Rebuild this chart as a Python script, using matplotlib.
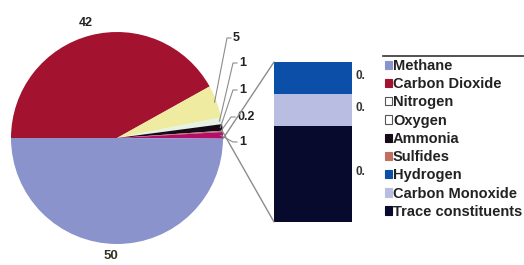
import matplotlib
matplotlib.use("Agg")
import matplotlib.pyplot as plt
import numpy as np
from matplotlib.patches import ConnectionPatch, Patch
from matplotlib.lines import Line2D

plt.rcParams['font.family'] = ['Liberation Sans', 'DejaVu Sans']

# ---- data ----
pie_labels = ["Carbon Dioxide", "Nitrogen", "Oxygen", "Ammonia", "Sulfides", "Other", "Methane"]
pie_values = [42, 5, 1, 1, 0.2, 1, 50]
pie_colors = ["#a3132f", "#efeba0", "#e6f2e4", "#160a18", "#c07060", "#b0106a", "#8b93cc"]

bar_labels = ["Trace constituents", "Carbon Monoxide", "Hydrogen"]   # bottom -> top
bar_values = [0.6, 0.2, 0.2]
bar_colors = ["#070a2c", "#b9bde2", "#0b4fa8"]
bar_value_text = ["0.", "0.", "0."]

legend_labels = ["Methane", "Carbon Dioxide", "Nitrogen", "Oxygen", "Ammonia",
                 "Sulfides", "Hydrogen", "Carbon Monoxide", "Trace constituents"]
legend_colors = ["#8b93cc", "#a3132f", "#ffffff", "#ffffff", "#160a18",
                 "#c07060", "#0b4fa8", "#b9bde2", "#070a2c"]

W, H = 524, 265
fig = plt.figure(figsize=(W / 100, H / 100), dpi=100)
fig.patch.set_facecolor("white")

# pie axes in pixel coordinates
ax = fig.add_axes([0, 0, 1, 1])
cx, cy, R = 117, H - 138, 106
wedges, _ = ax.pie(pie_values, colors=pie_colors, startangle=180, counterclock=False,
                   center=(cx, cy), radius=R, wedgeprops=dict(linewidth=0))
ax.set_xlim(0, W)
ax.set_ylim(0, H)
ax.set_aspect("equal")
ax.axis("off")

def rim(theta, r=R):
    t = np.deg2rad(theta)
    return cx + r * np.cos(t), cy + r * np.sin(t)

# big labels
m = 0.5 * (wedges[0].theta1 + wedges[0].theta2)
x, y = rim(m, R * 1.12)
ax.text(x - 1, y, str(pie_values[0]), ha="center", va="center",
        fontsize=9, fontweight="bold", color="#222222")
m = 0.5 * (wedges[6].theta1 + wedges[6].theta2)
x, y = rim(m, R * 1.12)
ax.text(x - 6, y + 1, str(pie_values[6]), ha="center", va="center",
        fontsize=9.5, fontweight="bold", color="#333322")

# small labels with leader lines
lab_font = dict(fontsize=9, fontweight="bold", color="#222222")
label_pos = [(233, H - 38), (239, H - 63), (239, H - 90), (237, H - 117), (239, H - 142)]
for i, (lx, ly) in zip(range(1, 6), label_pos):
    w = wedges[i]
    mm = 0.5 * (w.theta1 + w.theta2)
    sx, sy = rim(mm, R * 0.98)
    v = pie_values[i]
    ax.plot([sx, lx - 6, lx - 2], [sy, ly, ly], color="#8c8c8c", lw=0.8)
    ax.text(lx, ly, f"{v:g}", ha="left", va="center", **lab_font)

# bar of pie
ax2 = fig.add_axes([274 / W, (H - 222) / H, 78 / W, 160 / H])
bottom = 0
for v, c, t in zip(bar_values, bar_colors, bar_value_text):
    ax2.bar(0, v, bottom=bottom, width=1, color=c, linewidth=0)
    ax2.text(1.05, bottom + v / 2 + 0.015 * sum(bar_values), t,
             transform=ax2.get_yaxis_transform(),
             ha="left", va="center", fontsize=8.5, fontweight="bold", color="#333333")
    bottom += v
ax2.set_xlim(-0.5, 0.5)
ax2.set_ylim(0, sum(bar_values))
ax2.axis("off")

# connector lines from the "Other" slice to the bar
ow = wedges[5]
p_top = rim(ow.theta1)
p_bot = rim(ow.theta2)
for p, yb in [(p_top, sum(bar_values)), (p_bot, 0)]:
    con = ConnectionPatch(xyA=p, coordsA=ax.transData, xyB=(-0.5, yb), coordsB=ax2.transData,
                          color="#8c8c8c", lw=1)
    fig.add_artist(con)

# legend
handles = [Patch(facecolor=c, edgecolor="#555555" if c == "#ffffff" else c, linewidth=0.8)
           for c in legend_colors]
leg = fig.legend(handles, legend_labels, loc="upper left", bbox_to_anchor=(385 / W, 1 - 59 / H),
                 frameon=False, fontsize=10.5, handlelength=0.5, handleheight=0.5,
                 handletextpad=0.05, labelspacing=0.29, borderaxespad=0, borderpad=0)
for t in leg.get_texts():
    t.set_fontweight("bold")
    t.set_color("#222222")
fig.add_artist(Line2D([383 / W, 1], [1 - 56 / H, 1 - 56 / H], color="#333333", lw=1.2))

fig.savefig("out.png", dpi=100, facecolor="white")
